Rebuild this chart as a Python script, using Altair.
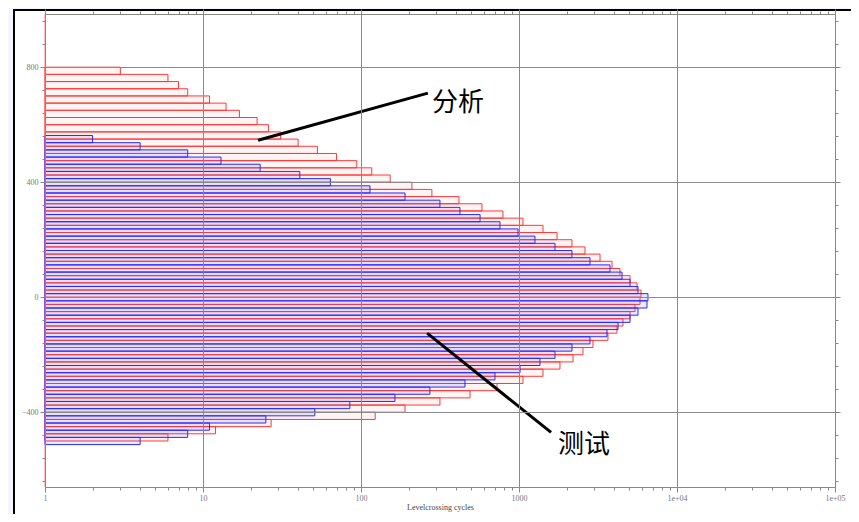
import altair as alt
import pandas as pd

# Level bins (lower edges, width 25)
levels = [775, 750, 725, 700, 675, 650, 625, 600, 575, 550, 525, 500, 475, 450, 425, 400,
          375, 350, 325, 300, 275, 250, 225, 200, 175, 150, 125, 100, 75, 50, 25, 0,
          -25, -50, -75, -100, -125, -150, -175, -200, -225, -250, -275, -300, -325, -350,
          -375, -400, -425, -450, -475, -500]
bin_width = 25

# "分析" (analysis) - red
red_counts = [3, 6, 7, 8, 11, 14, 17, 22, 26, 31, 40, 53, 70, 94, 117, 153, 210, 281, 417, 583,
              792, 1060, 1419, 1741, 2164, 2617, 3258, 3880, 4356, 5045, 5585, 5918, 5834, 5420,
              5045, 4550, 4170, 3657, 2940, 2541, 2198, 1817, 1419, 1060, 726, 490, 316, 190, 123,
              27, 12, 6]

# "测试" (test) - blue, bins offset by half a bin
blue_levels = [537.5, 512.5, 487.5, 462.5, 437.5, 412.5, 387.5, 362.5, 337.5, 312.5, 287.5,
               262.5, 237.5, 212.5, 187.5, 162.5, 137.5, 112.5, 87.5, 62.5, 37.5, 12.5, -12.5,
               -37.5, -62.5, -87.5, -112.5, -137.5, -162.5, -187.5, -212.5, -237.5, -262.5,
               -287.5, -312.5, -337.5, -362.5, -387.5, -412.5, -437.5, -462.5, -487.5, -512.5]
blue_counts = [2, 4, 8, 13, 23, 41, 64, 114, 190, 316, 423, 567, 758, 986, 1262, 1690, 2164, 2813,
               3767, 4487, 5045, 5665, 6550, 6457, 5665, 5045, 4234, 3605, 2813, 2164, 1690, 1358,
               1015, 705, 455, 273, 164, 85, 51, 25, 11, 8, 4]

ann_labels = ["分析", "测试"]
ann_text_x = [281, 1766]
ann_text_y = [675, -515]
ann_from_x = [22.3, 262]
ann_from_y = [546, -125]
ann_to_x = [265, 1595]
ann_to_y = [710, -470]

red_df = pd.DataFrame({"lo": levels, "hi": [l + bin_width for l in levels],
                       "count": red_counts, "base": 1})
blue_df = pd.DataFrame({"lo": blue_levels, "hi": [l + bin_width for l in blue_levels],
                        "count": blue_counts, "base": 1})
one_df = pd.DataFrame({"base": [1]})
ann_df = pd.DataFrame({"x1": ann_from_x, "y1": ann_from_y, "x2": ann_to_x, "y2": ann_to_y})
txt_df = pd.DataFrame({"x": ann_text_x, "y": ann_text_y, "t": ann_labels})

W, H = 790, 473
xs = alt.Scale(type="log", domain=[1, 100000], nice=False)
ys = alt.Scale(domain=[-660, 985], nice=False, zero=False)

x_ticks = []
for d in [1, 10, 100, 1000, 10000]:
    for m in range(1, 10):
        x_ticks.append(d * m)
x_ticks.append(100000)
y_ticks = list(range(-640, 961, 80))

x_major_test = "indexof([1,10,100,1000,10000,100000], datum.value) >= 0"
y_major_test = "datum.value % 400 == 0"

def x_axis(orient, labels, title=None):
    kw = dict(
        orient=orient, values=x_ticks, zindex=1,
        grid=labels,
        gridColor="#8a8a8a", gridWidth=1,
        gridOpacity={"condition": {"test": x_major_test, "value": 1}, "value": 0},
        tickSize={"condition": {"test": x_major_test, "value": 5}, "value": 3},
        tickColor="#888", domainColor="#888",
        labels=labels,
        labelExpr="indexof([1,10,100,1000,10000,100000], datum.value) >= 0 ? (datum.value >= 10000 ? replace(format(datum.value, '.0e'), 'e+', 'e+0') : format(datum.value, 'd')) : ''",
        labelFont="Liberation Serif", labelFontSize=8, labelColor="#777", labelPadding=2,
        labelFlush=False, labelOverlap=False,
    )
    if title:
        kw.update(title=title, titleFont="Liberation Serif", titleFontSize=8,
                  titleFontWeight="normal", titleColor="#444", titlePadding=1)
    else:
        kw.update(title=None)
    return alt.Axis(**kw)

def y_axis(orient, labels):
    return alt.Axis(
        orient=orient, values=y_ticks, zindex=1, title=None,
        grid=labels,
        gridColor="#8a8a8a", gridWidth=1,
        gridOpacity={"condition": {"test": y_major_test, "value": 1}, "value": 0},
        tickSize={"condition": {"test": y_major_test, "value": 5}, "value": 3},
        tickColor="#888", domainColor="#888",
        labels=labels,
        labelExpr="datum.value % 400 == 0 ? format(datum.value, 'd') : ''",
        labelFont="Liberation Serif", labelFontSize=8, labelColor="#777", labelPadding=2,
        labelOverlap=False,
    )

panel = alt.Chart(one_df).mark_rect(fill="white", stroke="black", strokeWidth=2).encode(
    x=alt.value(-31), x2=alt.value(1000), y=alt.value(-4), y2=alt.value(800)
)

red = alt.Chart(red_df).mark_rect(stroke="#ff3a3a", strokeWidth=1, fill="#ff6060",
                                  fillOpacity=0.07).encode(
    x=alt.X("base:Q", scale=xs, axis=x_axis("bottom", True, "Levelcrossing cycles")),
    x2="count:Q",
    y=alt.Y("lo:Q", scale=ys, axis=y_axis("left", True)),
    y2="hi:Q",
)

blue = alt.Chart(blue_df).mark_rect(stroke="#2a2aff", strokeWidth=1, fill="#4a4aff",
                                    fillOpacity=0.12).encode(
    x=alt.X("base:Q", scale=xs, axis=None),
    x2="count:Q",
    y=alt.Y("lo:Q", scale=ys, axis=None),
    y2="hi:Q",
)

mirror = alt.Chart(red_df).mark_rect(opacity=0).encode(
    x=alt.X("base:Q", scale=xs, axis=x_axis("top", False)),
    x2="count:Q",
    y=alt.Y("lo:Q", scale=ys, axis=y_axis("right", False)),
    y2="hi:Q",
)

pink = alt.Chart(one_df).mark_rule(color="#ffaaaa", strokeWidth=1.5).encode(
    x=alt.X("base:Q", scale=xs, axis=None),
    y=alt.value(0), y2=alt.value(H),
)

arrows = alt.Chart(ann_df).mark_rule(color="black", strokeWidth=3).encode(
    x=alt.X("x1:Q", scale=xs, axis=None), x2="x2:Q",
    y=alt.Y("y1:Q", scale=ys, axis=None), y2="y2:Q",
)

texts = alt.Chart(txt_df).mark_text(align="left", baseline="middle", fontSize=26,
                                    font="Noto Sans CJK SC", color="black").encode(
    x=alt.X("x:Q", scale=xs, axis=None),
    y=alt.Y("y:Q", scale=ys, axis=None),
    text="t:N",
)

chart = alt.layer(panel, pink, red, blue, mirror, arrows, texts).resolve_axis(
    x="independent", y="independent"
).properties(
    width=W, height=H,
    autosize=alt.AutoSizeParams(type="none"),
    padding={"left": 37, "top": 6, "right": 16, "bottom": 27},
    background="#f5f5fb",
).configure_view(stroke="#888", strokeWidth=1)

chart.save("out.html", embed_options={"renderer": "svg", "actions": False})
